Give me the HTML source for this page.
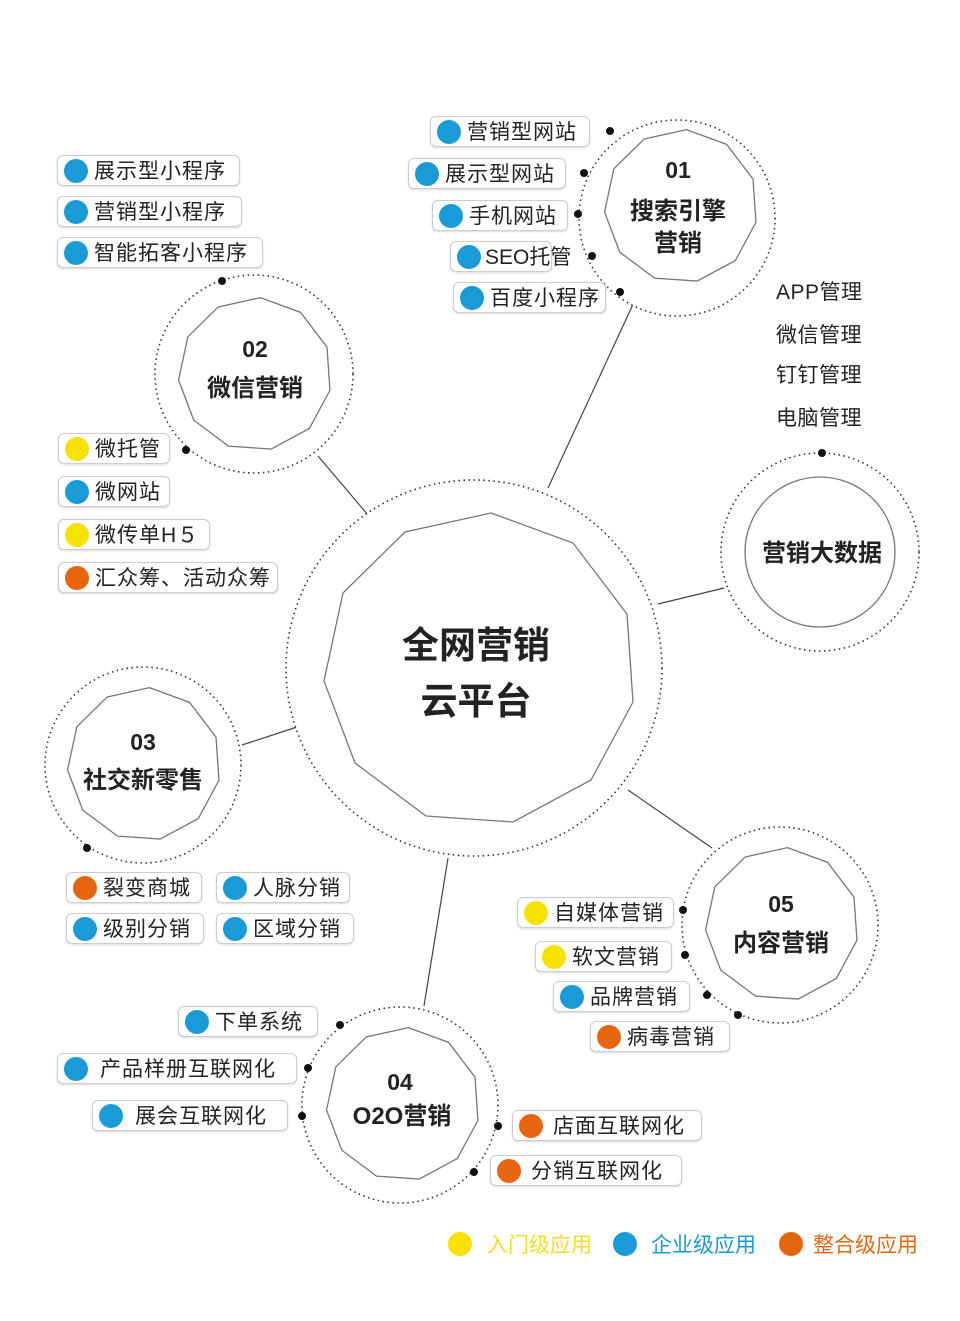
<!DOCTYPE html>
<html><head><meta charset="utf-8"><style>
body{margin:0;width:960px;height:1321px;background:#fff;position:relative;overflow:hidden;font-family:"Liberation Sans","Noto Sans CJK SC",sans-serif;}
.p{position:absolute;height:31px;border:1px solid #ccc;border-radius:6px;box-shadow:0 1px 2px rgba(0,0,0,.15);box-sizing:border-box;font-size:21px;line-height:31px;letter-spacing:1px;color:#222;white-space:nowrap;padding-left:36px;background:#fff}
.p::before{content:"";position:absolute;left:6px;top:3px;width:24px;height:24px;border-radius:50%;background:var(--c)}
.b{--c:#1a9ad6}.y{--c:#f7e100}.o{--c:#e8650f}
.t{position:absolute;font-size:21px;color:#222;letter-spacing:0.5px}
svg{position:absolute;left:0;top:0}
</style></head><body>
<svg width="960" height="1321" viewBox="0 0 960 1321">
<defs>
<polygon id="pg" points="13,-164 95,-134 149,-63 155,25 113,103 35,145 -52,139 -123,86 -154,4 -135,-84 -73,-145" fill="#fff" stroke="#777" stroke-width="1.3" vector-effect="non-scaling-stroke"/>
</defs>
<g stroke="#444" stroke-width="1.2">
<line x1="548" y1="488" x2="635" y2="300"/>
<line x1="318" y1="456" x2="368" y2="515"/>
<line x1="658" y1="604" x2="724" y2="588"/>
<line x1="242" y1="745" x2="297" y2="727"/>
<line x1="628" y1="790" x2="712" y2="848"/>
<line x1="448" y1="858" x2="424" y2="1006"/>
</g>
<g fill="#fff" stroke="#333" stroke-width="1.6" stroke-dasharray="1.5 3.5">
<circle cx="474" cy="668" r="188"/>
<circle cx="677" cy="218" r="98"/>
<circle cx="254" cy="374" r="99"/>
<circle cx="143" cy="765" r="98"/>
<circle cx="400" cy="1105" r="98"/>
<circle cx="780" cy="925" r="98"/>
<circle cx="820" cy="552" r="99"/>
</g>
<use href="#pg" transform="translate(478,677)"/>
<use href="#pg" transform="translate(680,210) scale(0.49)"/>
<use href="#pg" transform="translate(254,378) scale(0.49)"/>
<use href="#pg" transform="translate(143,768) scale(0.49)"/>
<use href="#pg" transform="translate(402,1108) scale(0.49)"/>
<use href="#pg" transform="translate(781,928) scale(0.49)"/>
<circle cx="820" cy="552" r="75" fill="#fff" stroke="#777" stroke-width="1.3"/>
<g fill="#111">
<circle cx="610" cy="131" r="4"/><circle cx="584" cy="173" r="4"/><circle cx="578" cy="214" r="4"/><circle cx="592" cy="256" r="4"/><circle cx="620" cy="292" r="4"/>
<circle cx="222" cy="281" r="4"/><circle cx="186" cy="450" r="4"/><circle cx="87" cy="848" r="4"/>
<circle cx="683" cy="910" r="4"/><circle cx="685" cy="955" r="4"/><circle cx="707" cy="995" r="4"/><circle cx="738" cy="1015" r="4"/>
<circle cx="340" cy="1025" r="4"/><circle cx="308" cy="1068" r="4"/><circle cx="302" cy="1116" r="4"/><circle cx="498" cy="1126" r="4"/><circle cx="474" cy="1172" r="4"/>
<circle cx="822" cy="453" r="4"/>
</g>
<g font-family="Liberation Sans, Noto Sans CJK SC, sans-serif" font-weight="bold" fill="#222" text-anchor="middle">
<text x="476" y="658" font-size="37">全网营销</text>
<text x="476" y="714" font-size="37">云平台</text>
<text x="678" y="178" font-size="23">01</text>
<text x="678" y="219" font-size="24">搜索引擎</text>
<text x="678" y="251" font-size="24">营销</text>
<text x="255" y="357" font-size="23">02</text>
<text x="255" y="396" font-size="24">微信营销</text>
<text x="143" y="750" font-size="23">03</text>
<text x="143" y="788" font-size="24">社交新零售</text>
<text x="400" y="1090" font-size="23">04</text>
<text x="402" y="1124" font-size="24">O2O营销</text>
<text x="781" y="912" font-size="23">05</text>
<text x="781" y="951" font-size="24">内容营销</text>
<text x="822" y="561" font-size="24">营销大数据</text>
</g>
<g font-family="Liberation Sans, Noto Sans CJK SC, sans-serif" font-size="21">
<circle cx="460" cy="1244" r="12" fill="#f7e100"/><text x="487" y="1252" fill="#f2dc2a">入门级应用</text>
<circle cx="625" cy="1244" r="12" fill="#1a9ad6"/><text x="651" y="1252" fill="#1a9ad6">企业级应用</text>
<circle cx="791" cy="1244" r="12" fill="#e8650f"/><text x="813" y="1252" fill="#e8650f">整合级应用</text>
</g>
</svg>
<div class="p b" style="left:430px;top:116px;width:160px">营销型网站</div>
<div class="p b" style="left:408px;top:158px;width:158px">展示型网站</div>
<div class="p b" style="left:432px;top:200px;width:136px">手机网站</div>
<div class="p b" style="left:450px;top:241px;width:102px;padding-left:34px;letter-spacing:0">SEO托管</div>
<div class="p b" style="left:453px;top:282px;width:153px">百度小程序</div>
<div class="p b" style="left:57px;top:155px;width:183px">展示型小程序</div>
<div class="p b" style="left:57px;top:196px;width:185px">营销型小程序</div>
<div class="p b" style="left:57px;top:237px;width:206px">智能拓客小程序</div>
<div class="p y" style="left:58px;top:433px;width:112px">微托管</div>
<div class="p b" style="left:58px;top:476px;width:112px">微网站</div>
<div class="p y" style="left:58px;top:519px;width:152px">微传单H５</div>
<div class="p o" style="left:58px;top:562px;width:220px">汇众筹、活动众筹</div>
<div class="p o" style="left:66px;top:872px;width:136px">裂变商城</div>
<div class="p b" style="left:216px;top:872px;width:134px">人脉分销</div>
<div class="p b" style="left:66px;top:913px;width:138px">级别分销</div>
<div class="p b" style="left:216px;top:913px;width:138px">区域分销</div>
<div class="p y" style="left:517px;top:897px;width:157px">自媒体营销</div>
<div class="p y" style="left:535px;top:941px;width:137px">软文营销</div>
<div class="p b" style="left:553px;top:981px;width:137px">品牌营销</div>
<div class="p o" style="left:590px;top:1021px;width:140px">病毒营销</div>
<div class="p b" style="left:178px;top:1006px;width:140px">下单系统</div>
<div class="p b" style="left:57px;top:1053px;width:240px;padding-left:42px">产品样册互联网化</div>
<div class="p b" style="left:92px;top:1100px;width:196px;padding-left:42px">展会互联网化</div>
<div class="p o" style="left:512px;top:1110px;width:190px;padding-left:40px">店面互联网化</div>
<div class="p o" style="left:490px;top:1155px;width:192px;padding-left:40px">分销互联网化</div>
<div class="t" style="left:776px;top:276px">APP管理</div>
<div class="t" style="left:776px;top:319px">微信管理</div>
<div class="t" style="left:776px;top:359px">钉钉管理</div>
<div class="t" style="left:776px;top:402px">电脑管理</div>
</body></html>
